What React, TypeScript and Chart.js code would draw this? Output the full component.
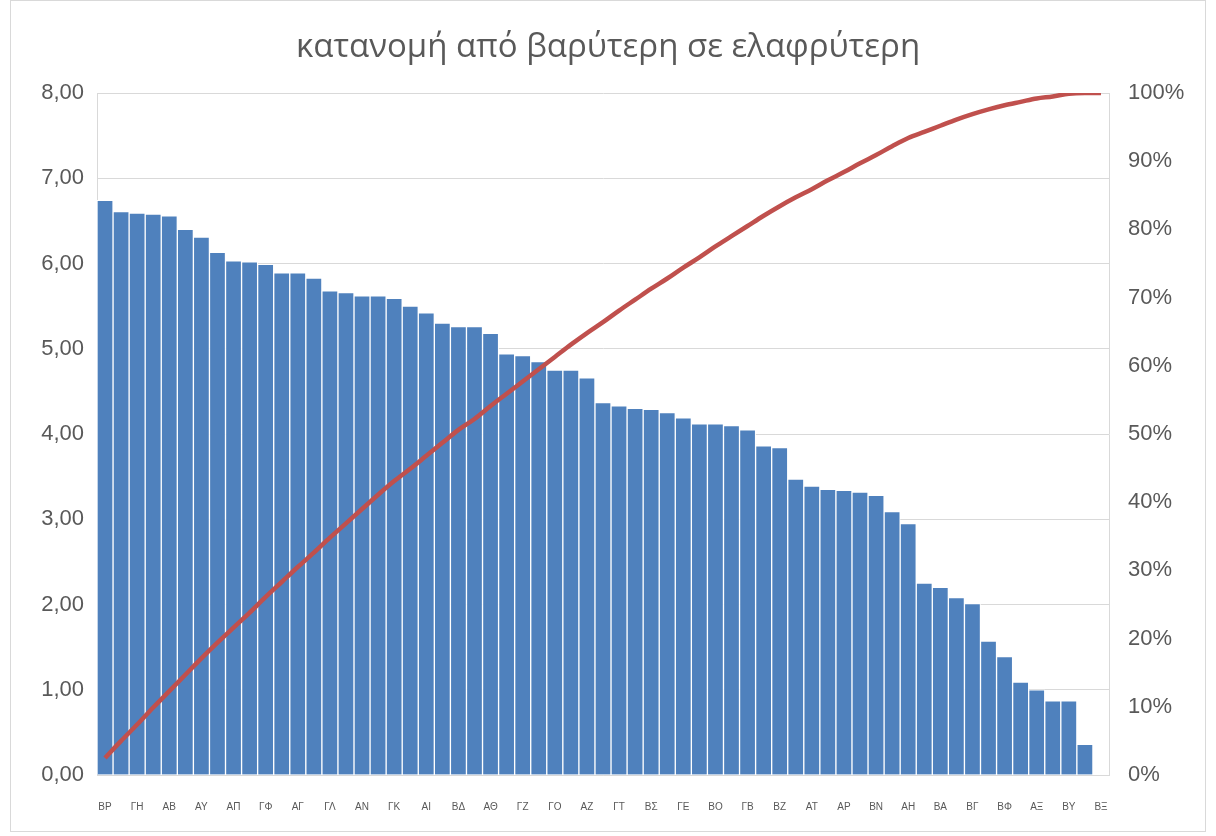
import React, { useEffect, useRef } from "react";
import { Chart, registerables } from "chart.js";

Chart.register(...registerables);

const TITLE = "κατανομή από βαρύτερη σε ελαφρύτερη";

// 63 categories; only every other one carries a visible label in the reference
const categories = [
  "ΒΡ", "", "ΓΗ", "", "ΑΒ", "", "ΑΥ", "", "ΑΠ", "", "ΓΦ", "", "ΑΓ", "", "ΓΛ", "",
  "ΑΝ", "", "ΓΚ", "", "ΑΙ", "", "ΒΔ", "", "ΑΘ", "", "ΓΖ", "", "ΓΟ", "", "ΑΖ", "",
  "ΓΤ", "", "ΒΣ", "", "ΓΕ", "", "ΒΟ", "", "ΓΒ", "", "ΒΖ", "", "ΑΤ", "", "ΑΡ", "",
  "ΒΝ", "", "ΑΗ", "", "ΒΑ", "", "ΒΓ", "", "ΒΦ", "", "ΑΞ", "", "ΒΥ", "", "ΒΞ",
];

const weights = [
  6.74, 6.61, 6.59, 6.58, 6.56, 6.40, 6.31, 6.13, 6.03, 6.02,
  5.99, 5.89, 5.89, 5.83, 5.68, 5.66, 5.62, 5.62, 5.59, 5.50,
  5.42, 5.30, 5.26, 5.26, 5.18, 4.94, 4.92, 4.85, 4.75, 4.75,
  4.66, 4.37, 4.33, 4.30, 4.29, 4.25, 4.19, 4.12, 4.12, 4.10,
  4.05, 3.86, 3.84, 3.47, 3.39, 3.35, 3.34, 3.32, 3.28, 3.09,
  2.95, 2.25, 2.20, 2.08, 2.01, 1.57, 1.39, 1.09, 1.00, 0.87,
  0.87, 0.36, 0.0,
];

const cumulativePct = [
  2.5, 5.0, 7.4, 9.9, 12.3, 14.7, 17.1, 19.4, 21.6, 23.8,
  26.1, 28.3, 30.5, 32.6, 34.8, 36.9, 39.0, 41.1, 43.1, 44.9,
  46.8, 48.7, 50.6, 52.2, 54.1, 55.9, 57.7, 59.5, 61.3, 63.1,
  64.8, 66.4, 68.1, 69.7, 71.3, 72.8, 74.4, 75.9, 77.5, 79.0,
  80.5, 82.0, 83.4, 84.7, 85.9, 87.2, 88.4, 89.7, 90.9, 92.2,
  93.4, 94.3, 95.2, 96.1, 96.9, 97.6, 98.2, 98.7, 99.2, 99.5,
  99.9, 100, 100,
];

const TEXT = "#595959";
const GRID = "#d9d9d9";
const FONT = "'Liberation Sans', Arial, sans-serif";
const TITLE_FONT = "'Open Sans', 'Noto Sans', sans-serif";

export default function App() {
  const ref = useRef<HTMLCanvasElement | null>(null);

  useEffect(() => {
    if (!ref.current) return;
    const chart = new Chart(ref.current, {
      type: "bar",
      data: {
        labels: categories,
        datasets: [
          {
            type: "line",
            label: "cumulative",
            data: cumulativePct,
            yAxisID: "y1",
            borderColor: "#c0504d",
            backgroundColor: "#c0504d",
            borderWidth: 4.5,
            pointRadius: 0,
            cubicInterpolationMode: "monotone",
            order: 0,
          } as any,
          {
            type: "bar",
            label: "weight",
            data: weights,
            yAxisID: "y",
            backgroundColor: "#4f81bd",
            borderColor: "#ffffff",
            borderWidth: 1,
            barPercentage: 1,
            categoryPercentage: 1,
            order: 1,
          } as any,
        ],
      },
      options: {
        responsive: false,
        animation: false,
        maintainAspectRatio: false,
        layout: { padding: 0 },
        plugins: {
          legend: { display: false },
          tooltip: { enabled: false },
          title: {
            display: true,
            text: TITLE,
            color: TEXT,
            font: { family: TITLE_FONT, size: 33, weight: "normal", lineHeight: 1.2 },
            padding: { top: 27.5, bottom: 25.9 },
          },
        },
        scales: {
          x: {
            grid: { display: false },
            border: { display: true, color: GRID, width: 1 },
            ticks: {
              autoSkip: false,
              maxRotation: 0,
              minRotation: 0,
              color: TEXT,
              font: { family: FONT, size: 10 },
              padding: 18,
            },
            afterFit: (s: any) => {
              s.height = 61;
            },
          },
          y: {
            position: "left",
            min: 0,
            max: 8,
            ticks: {
              stepSize: 1,
              color: TEXT,
              font: { family: FONT, size: 22 },
              padding: 13,
              callback: (v: any) => Number(v).toFixed(2).replace(".", ","),
            },
            grid: { color: GRID, drawTicks: false, lineWidth: 1 },
            border: { display: true, color: GRID },
            afterFit: (s: any) => {
              s.width = 97;
            },
          },
          y1: {
            position: "right",
            min: 0,
            max: 100,
            ticks: {
              stepSize: 10,
              color: TEXT,
              font: { family: FONT, size: 22 },
              padding: 19,
              callback: (v: any) => `${v}%`,
            },
            grid: { drawOnChartArea: false, drawTicks: false },
            border: { display: true, color: GRID },
            afterFit: (s: any) => {
              s.width = 107;
            },
          },
        },
      },
    });
    return () => chart.destroy();
  }, []);

  return (
    <div style={{ position: "fixed", left: 0, top: 0, width: 1216, height: 836, background: "#fff" }}>
      <canvas ref={ref} width={1216} height={836} style={{ display: "block", width: 1216, height: 836 }} />
      <div
        style={{
          position: "absolute",
          left: 10,
          top: 0,
          width: 1196,
          height: 832,
          border: "1px solid #d9d9d9",
          boxSizing: "border-box",
          pointerEvents: "none",
        }}
      />
    </div>
  );
}
